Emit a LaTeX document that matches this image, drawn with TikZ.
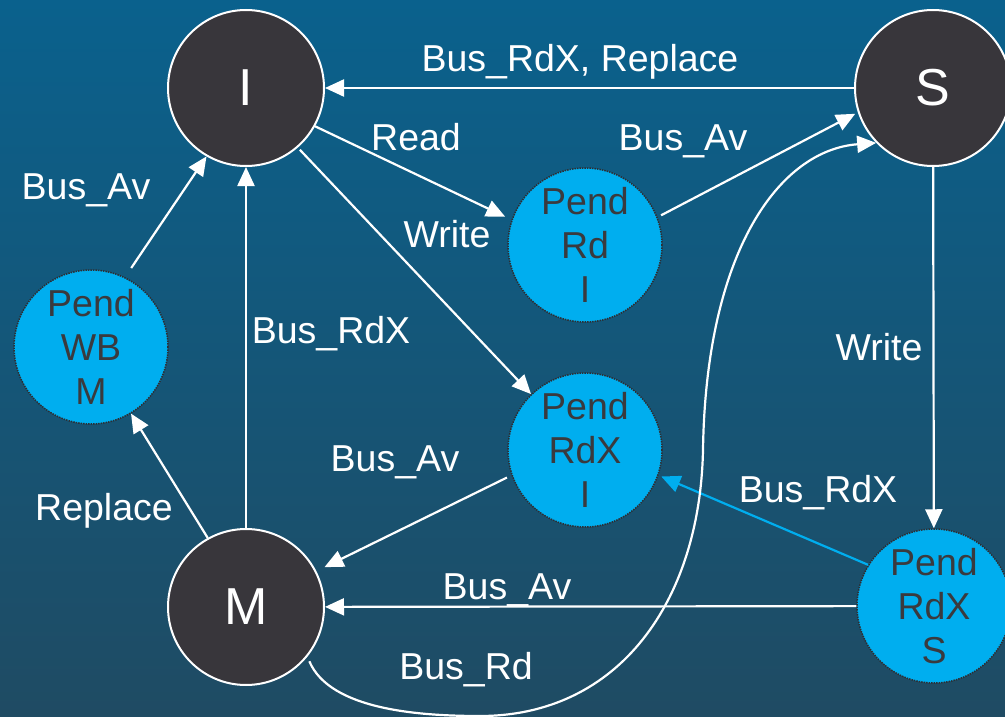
\documentclass[tikz,border=0pt]{standalone}
\usepackage{fontspec}
\setmainfont{Liberation Sans}
\usetikzlibrary{arrows.meta}
\definecolor{bgtop}{RGB}{10,97,141}
\definecolor{bgbot}{RGB}{31,75,99}
\definecolor{statefill}{RGB}{56,54,59}
\definecolor{pendfill}{RGB}{0,174,239}
\definecolor{penddraw}{RGB}{45,45,50}
\definecolor{pendtext}{RGB}{58,58,62}
\tikzset{
  state/.style={circle, minimum size=156pt, inner sep=0pt, fill=statefill,
    draw=white, line width=2pt, text=white, font=\fontsize{52}{60}\selectfont},
  pend/.style={circle, minimum size=154pt, inner sep=0pt, fill=pendfill,
    draw=penddraw, line width=1.5pt, densely dotted, text=pendtext, align=center,
    font=\fontsize{37.5}{44}\selectfont},
  wire/.style={draw=white, line width=2.2pt, -{Triangle[length=19pt,width=17pt]}},
  bluewire/.style={wire, draw=pendfill},
  lbl/.style={text=white, anchor=base, inner sep=0pt, font=\fontsize{37.5}{44}\selectfont}
}
\begin{document}
\begin{tikzpicture}[x=1pt,y=-1pt]
  \useasboundingbox (0,0) rectangle (1005,717);
  \clip (0,0) rectangle (1005,717);
  \fill[top color=bgtop, bottom color=bgbot] (0,0) rectangle (1005,717);

  % states
  \node[state] (I) at (246,88) {I};
  \node[state] (S) at (933,88) {S};
  \node[state] (M) at (246,607) {M};
  \node[pend] (PRdI)  at (585,245) {Pend\\Rd\\I};
  \node[pend] (PRdXI) at (585,450) {Pend\\RdX\\I};
  \node[pend] (PWBM)  at (91,347)  {Pend\\WB\\M};
  \node[pend] (PRdXS) at (934,606) {Pend\\RdX\\S};

  % transitions
  \draw[wire] (S) -- (I);
  \draw[wire, shorten >=7pt] (I.-29) -- (PRdI.161);
  \draw[wire, shorten <=4pt, shorten >=3pt] (PRdI.21) -- (S.198);
  \draw[wire, shorten <=3pt] (I.-49) -- (PRdXI.134);
  \draw[wire, shorten <=11pt] (PWBM.64) -- (I.240);
  \draw[wire] (M) -- (I);
  \draw[wire] (M.119) -- (PWBM.-59);
  \draw[wire, shorten <=5pt, shorten >=9pt] (PRdXI.199) -- (M.27);
  \draw[wire] (S) -- (PRdXS);
  \draw[bluewire, shorten >=3pt] (PRdXS.148) -- (PRdXI.-19);
  \draw[wire] (PRdXS) -- (M);
  \draw[wire, shorten <=5pt] (M.-39) .. controls (330,710) and (420,716) .. (480,716)
    .. controls (620,716) and (700,600) .. (703,450)
    .. controls (706,250) and (780,150) .. (S.224);

  % labels
  \node[lbl] (lRdXRep) at (580,72)  {Bus\_RdX, Replace};
  \node[lbl] (lRead)   at (416,150) {Read};
  \node[lbl] (lWrite1) at (447,247) {Write};
  \node[lbl] (lAv1)    at (683,150) {Bus\_Av};
  \node[lbl] (lAv2)    at (86,199)  {Bus\_Av};
  \node[lbl] (lRdX1)   at (331,343) {Bus\_RdX};
  \node[lbl] (lWrite2) at (879,360) {Write};
  \node[lbl] (lAv3)    at (395,471) {Bus\_Av};
  \node[lbl] (lRep)    at (104,520) {Replace};
  \node[lbl] (lRdX2)   at (818,502) {Bus\_RdX};
  \node[lbl] (lAv4)    at (507,599) {Bus\_Av};
  \node[lbl] (lRd)     at (466,679) {Bus\_Rd};
\end{tikzpicture}
\end{document}
